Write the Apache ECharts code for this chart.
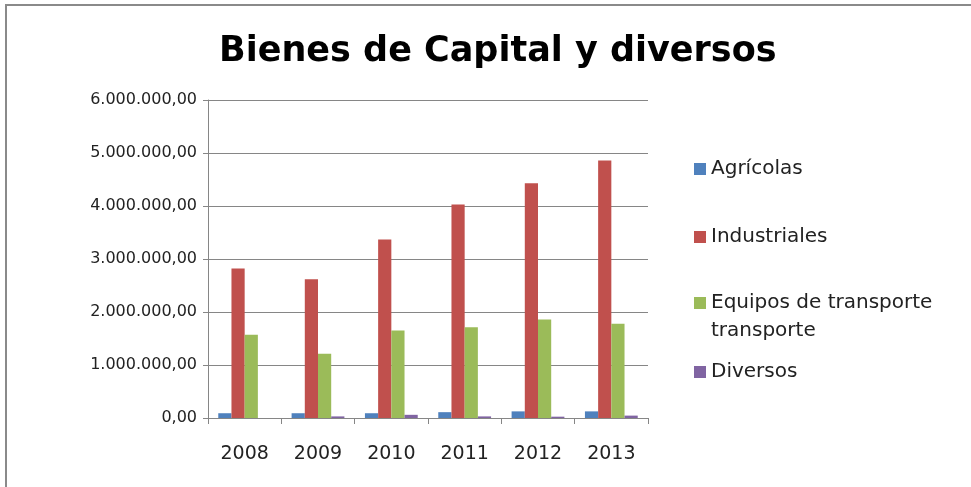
<!DOCTYPE html>
<html>
<head>
<meta charset="utf-8">
<script src="https://cdn.jsdelivr.net/npm/echarts@6/dist/echarts.min.js"></script>
<style>
  html, body { margin: 0; padding: 0; background: #fff; }
  #frame { position: absolute; left: 5px; top: 4px; width: 975px; height: 490px; border: 2px solid #8a8a8a; box-sizing: border-box; }
  #main { position: absolute; left: 0; top: 0; width: 971px; height: 487px; }
</style>
</head>
<body>
<div id="frame"></div>
<div id="main"></div>
<script>
var years = ['2008', '2009', '2010', '2011', '2012', '2013'];
var seriesNames = ['Agrícolas', 'Industriales', 'Equipos de transporte transporte', 'Diversos'];
var agricolas = [90000, 90000, 90000, 110000, 125000, 125000];
var industriales = [2820000, 2620000, 3370000, 4030000, 4430000, 4860000];
var equipos = [1570000, 1210000, 1650000, 1710000, 1860000, 1780000];
var diversos = [0, 30000, 60000, 30000, 25000, 45000];
var colores = ['#4F81BD', '#C0504D', '#9BBB59', '#8064A2'];

var chart = echarts.init(document.getElementById('main'), null, { renderer: 'canvas' });

function fmt(v) {
  // 1234567 -> 1.234.567,00
  var s = String(Math.round(v));
  s = s.replace(/\B(?=(\d{3})+(?!\d))/g, '.');
  return s + ',00';
}

var fuente = 'DejaVu Sans';

function legendItem(name, top) {
  return {
    data: [name],
    orient: 'vertical',
    left: 689,
    top: top,
    icon: 'rect',
    itemWidth: 12,
    itemHeight: 12,
    itemGap: 0,
    textStyle: { fontFamily: fuente, fontSize: 20, color: '#222', lineHeight: 28 },
    formatter: function (n) {
      // primera linea vacia para que el cuadro quede junto a la primera linea
      return n === seriesNames[2] ? ' \nEquipos de transporte\ntransporte' : n;
    }
  };
}

var data = [agricolas, industriales, equipos, diversos];

var option = {
  animation: false,
  title: {
    text: 'Bienes de Capital y diversos',
    left: 214,
    top: 29,
    textStyle: { fontFamily: fuente, fontWeight: 'bold', fontSize: 35, color: '#000' }
  },
  legend: [
    legendItem(seriesNames[0], 150),
    legendItem(seriesNames[1], 218),
    legendItem(seriesNames[2], 256),
    legendItem(seriesNames[3], 353)
  ],
  grid: { left: 208, right: 323, top: 100, bottom: 69 },
  xAxis: {
    type: 'category',
    data: years,
    axisLine: { lineStyle: { color: '#868686', width: 1 } },
    axisTick: { show: true, length: 6, lineStyle: { color: '#868686' } },
    axisLabel: { fontFamily: fuente, fontSize: 19, color: '#222', margin: 27 }
  },
  yAxis: {
    type: 'value',
    min: 0,
    max: 6000000,
    interval: 1000000,
    axisLine: { show: true, lineStyle: { color: '#868686', width: 1 } },
    axisTick: { show: true, length: 5, lineStyle: { color: '#868686' } },
    splitLine: { lineStyle: { color: '#868686', width: 1 } },
    axisLabel: { fontFamily: fuente, fontSize: 16, color: '#222', margin: 11, formatter: fmt }
  },
  series: seriesNames.map(function (n, i) {
    return {
      name: n,
      type: 'bar',
      data: data[i],
      barGap: '0%',
      barCategoryGap: '28%',
      itemStyle: { color: colores[i] }
    };
  })
};

chart.setOption(option);
</script>
</body>
</html>
